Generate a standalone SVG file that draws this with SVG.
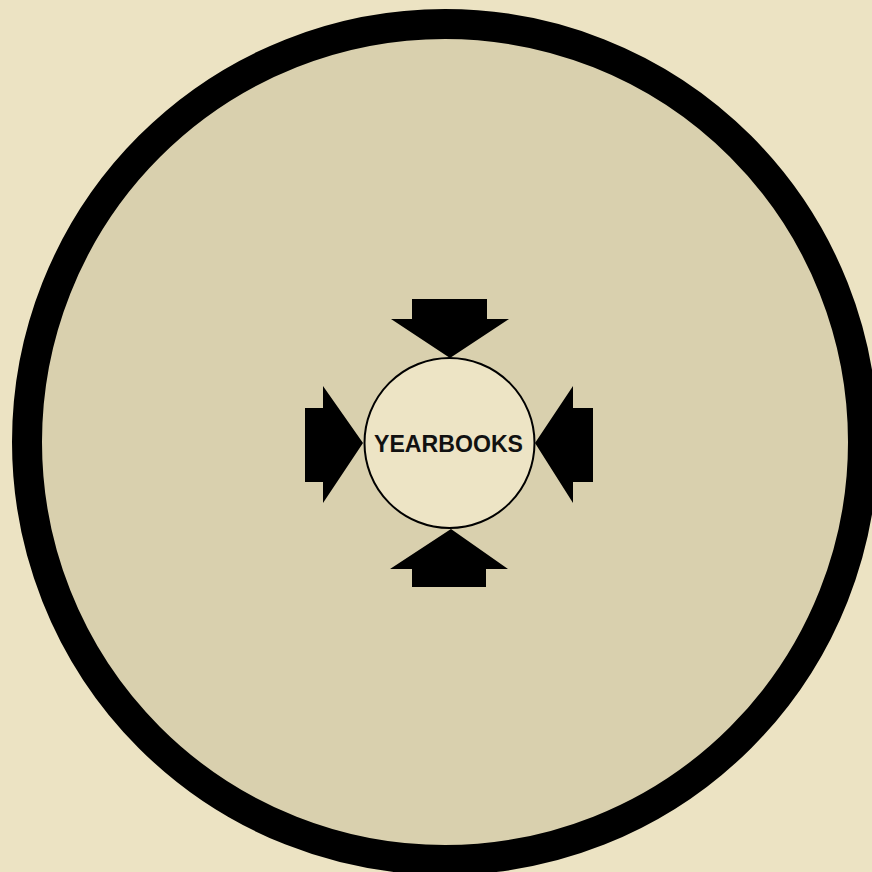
<svg xmlns="http://www.w3.org/2000/svg" width="872" height="872" viewBox="0 0 872 872">
<style>
.arrow{fill:#000}
.lbl{font-family:"Liberation Sans",Arial,sans-serif;font-weight:bold;font-size:24px;fill:#111}
</style>
<rect x="0" y="0" width="872" height="872" fill="#ece3c3"/>
<g id="outer">
<circle cx="445" cy="442" r="418" fill="#d9d0ae" stroke="#000" stroke-width="30"/>
</g>
<g id="connectors">
<polygon class="arrow" points="412,299 487,299 487,319 509,319 450,358 391,319 412,319"/>
<polygon class="arrow" points="412,587 486,587 486,569 508,569 451,529 390,569 412,569"/>
<polygon class="arrow" points="305,408 323,408 323,386 363,443 323,503 323,482 305,482"/>
<polygon class="arrow" points="593,408 573,408 573,386 535,443 573,503 573,482 593,482"/>
</g>
<g id="yearbooks">
<circle cx="449.5" cy="443" r="85" fill="#ede4c5" stroke="#000" stroke-width="2"/>
<text class="lbl" x="448.5" y="452" text-anchor="middle" textLength="149" lengthAdjust="spacingAndGlyphs">YEARBOOKS</text>
</g>
</svg>
